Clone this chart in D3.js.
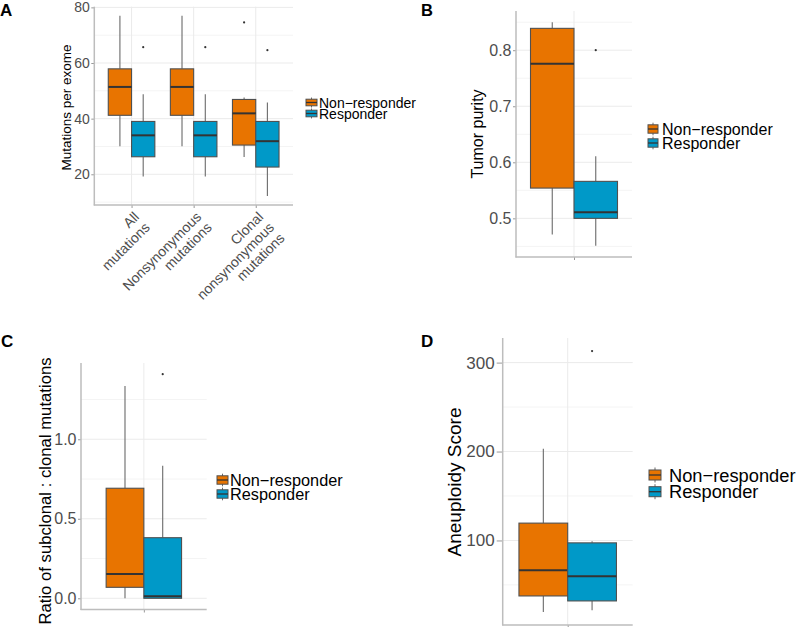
<!DOCTYPE html>
<html>
<head>
<meta charset="utf-8">
<script src="https://cdn.jsdelivr.net/npm/d3@7"></script>
<style>
  html, body { margin: 0; padding: 0; background: #fff; }
  svg { display: block; font-family: "Liberation Sans", Arial, sans-serif; }
</style>
</head>
<body>
<svg id="chart" width="800" height="627"></svg>
<script>
// ---------------- DATA ----------------
const groups = ["Non\u2212responder", "Responder"];
const groupColors = ["#E87400", "#0099C8"];

// Panel A: mutations per exome  (stats: [lowerWhisker, Q1, median, Q3, upperWhisker])
const mutCategories = [["All", "mutations"], ["Nonsynonymous", "mutations"], ["Clonal", "nonsynonymous", "mutations"]];
const mutNonResponderStats = [[30.1, 41.2, 51.4, 57.9, 77.0], [30.1, 41.2, 51.4, 57.9, 77.0], [26.2, 30.5, 41.9, 46.9, 47.6]];
const mutResponderStats = [[19.2, 26.3, 34.0, 39.0, 48.8], [19.2, 26.3, 34.0, 39.0, 48.8], [12.2, 22.6, 31.9, 39.0, 45.8]];
const mutNonResponderOutliers = [[], [], [74.6]];
const mutResponderOutliers = [[65.7], [65.7], [64.6]];
const mutTicks = [20, 40, 60, 80];

// Panel B: tumor purity
const purityNonResponderStats = [[0.471, 0.554, 0.776, 0.839, 0.850]];
const purityResponderStats = [[0.451, 0.500, 0.511, 0.566, 0.611]];
const purityNonResponderOutliers = [[]];
const purityResponderOutliers = [[0.80]];
const purityTicks = [0.5, 0.6, 0.7, 0.8];

// Panel C: ratio subclonal : clonal
const ratioNonResponderStats = [[0.0, 0.069, 0.153, 0.692, 1.335]];
const ratioResponderStats = [[0.0, 0.0, 0.013, 0.381, 0.834]];
const ratioNonResponderOutliers = [[]];
const ratioResponderOutliers = [[1.409]];
const ratioTicks = [0.0, 0.5, 1.0];

// Panel D: aneuploidy score
const aneuNonResponderStats = [[19.6, 37.6, 66.6, 119.5, 203]];
const aneuResponderStats = [[21.5, 32.0, 59.8, 97.3, 99.2]];
const aneuNonResponderOutliers = [[]];
const aneuResponderOutliers = [[313]];
const aneuTicks = [100, 200, 300];

// ---------------- DRAWING ----------------
const svg = d3.select("#chart");

function drawPanel(cfg) {
  const g = svg.append("g");
  const allVals = [];
  cfg.stats.forEach(s => s.forEach(b => allVals.push(...b)));
  cfg.outliers.forEach(s => s.forEach(o => allVals.push(...o)));
  const lo = d3.min(allVals), hi = d3.max(allVals);
  const pad = (hi - lo) * 0.05;
  const y = d3.scaleLinear().domain([lo - pad, hi + pad]).range([cfg.y1, cfg.y0]);
  const n = cfg.stats[0].length;
  const x = d3.scaleLinear().domain([0.4, n + 0.6]).range([cfg.x0, cfg.x1]);

  // minor gridlines
  const step = cfg.ticks[1] - cfg.ticks[0];
  const minor = [];
  for (let t = cfg.ticks[0] - step / 2; t <= y.domain()[1]; t += step) {
    if (t >= y.domain()[0]) minor.push(t);
  }
  g.selectAll(".minor").data(minor).join("line")
    .attr("x1", cfg.x0).attr("x2", cfg.x1)
    .attr("y1", d => y(d)).attr("y2", d => y(d))
    .attr("stroke", "#f4f4f4").attr("stroke-width", 1);
  g.selectAll(".major").data(cfg.ticks).join("line")
    .attr("x1", cfg.x0).attr("x2", cfg.x1)
    .attr("y1", d => y(d)).attr("y2", d => y(d))
    .attr("stroke", "#ebebeb").attr("stroke-width", 1);
  g.selectAll(".vgrid").data(d3.range(1, n + 1)).join("line")
    .attr("x1", d => x(d)).attr("x2", d => x(d))
    .attr("y1", cfg.y0).attr("y2", cfg.y1)
    .attr("stroke", "#ebebeb").attr("stroke-width", 1);

  // boxes
  const half = cfg.boxFrac / 2;
  cfg.stats.forEach((series, gi) => {
    series.forEach((s, ci) => {
      const cx = x(ci + 1 + (gi - 0.5) * half);
      const w = x(half) - x(0);
      const bg = g.append("g");
      bg.append("line").attr("x1", cx).attr("x2", cx).attr("y1", y(s[4])).attr("y2", y(s[3]))
        .attr("stroke", "#6a6a6a").attr("stroke-width", 1.1);
      bg.append("line").attr("x1", cx).attr("x2", cx).attr("y1", y(s[1])).attr("y2", y(s[0]))
        .attr("stroke", "#6a6a6a").attr("stroke-width", 1.1);
      bg.append("rect").attr("x", cx - w / 2).attr("width", w)
        .attr("y", y(s[3])).attr("height", Math.max(0.5, y(s[1]) - y(s[3])))
        .attr("fill", groupColors[gi]).attr("stroke", "#505050").attr("stroke-width", 1.1);
      bg.append("line").attr("x1", cx - w / 2).attr("x2", cx + w / 2)
        .attr("y1", y(s[2])).attr("y2", y(s[2]))
        .attr("stroke", "#333").attr("stroke-width", 2);
      cfg.outliers[gi][ci].forEach(o => {
        bg.append("circle").attr("cx", cx).attr("cy", y(o)).attr("r", 1.1).attr("fill", "#333");
      });
    });
  });

  // axes
  const yAxis = g.append("g").attr("transform", `translate(${cfg.x0},0)`)
    .call(d3.axisLeft(y).tickValues(cfg.ticks).tickSize(cfg.tickSize).tickPadding(cfg.tickPad).tickFormat(cfg.fmt));
  yAxis.select(".domain").remove();
  yAxis.selectAll(".tick line").attr("stroke", "#999");
  yAxis.selectAll(".tick text").attr("fill", "#4d4d4d").attr("font-size", cfg.tickFont)
    .attr("font-family", "Liberation Sans, Arial, sans-serif");

  const xAxis = g.append("g").attr("transform", `translate(0,${cfg.y1})`)
    .call(d3.axisBottom(x).tickValues(d3.range(1, n + 1)).tickSize(3).tickFormat(""));
  xAxis.select(".domain").remove();
  xAxis.selectAll(".tick line").attr("stroke", "#999");

  g.append("line").attr("x1", cfg.x0).attr("x2", cfg.x0).attr("y1", cfg.y0).attr("y2", cfg.y1 + 0.5)
    .attr("stroke", "#bdbdbd").attr("stroke-width", 1.5);
  g.append("line").attr("x1", cfg.x0 - 0.5).attr("x2", cfg.x1).attr("y1", cfg.y1).attr("y2", cfg.y1)
    .attr("stroke", "#bdbdbd").attr("stroke-width", 1.5);

  // category labels (panel A)
  if (cfg.cats) {
    cfg.cats.forEach((lines, ci) => {
      const lg = g.append("g").attr("transform", `translate(${x(ci + 1)},${cfg.y1}) rotate(-45)`);
      const t = lg.append("text").attr("text-anchor", "end").attr("fill", "#4d4d4d")
        .attr("font-size", cfg.catFont);
      lines.forEach((ln, li) => {
        t.append("tspan").attr("x", -3).attr("y", 15 + li * 15).text(ln);
      });
    });
  }

  // y title (positioned by baseline)
  g.append("text").attr("transform", `translate(${cfg.titleX},${cfg.titleY}) rotate(-90)`)
    .attr("text-anchor", "middle")
    .attr("font-size", cfg.titleFont).attr("fill", "#000").text(cfg.title);

  // panel letter
  g.append("text").attr("x", cfg.letterX).attr("y", cfg.letterY)
    .attr("font-size", cfg.letterFont).attr("font-weight", "bold").attr("fill", "#000").text(cfg.letter);

  // legend
  const L = cfg.legend;
  groups.forEach((name, gi) => {
    const cy = L.y + gi * L.gap;
    const kx = L.x;
    const kw = L.keyW;
    const kh = L.gap;
    g.append("line").attr("x1", kx + kw / 2).attr("x2", kx + kw / 2)
      .attr("y1", cy - kh * 0.45).attr("y2", cy + kh * 0.45)
      .attr("stroke", "#6a6a6a").attr("stroke-width", 1);
    g.append("rect").attr("x", kx).attr("width", kw)
      .attr("y", cy - kh * 0.3).attr("height", kh * 0.6)
      .attr("fill", groupColors[gi]).attr("stroke", "#505050").attr("stroke-width", 1);
    g.append("line").attr("x1", kx).attr("x2", kx + kw).attr("y1", cy).attr("y2", cy)
      .attr("stroke", "#333").attr("stroke-width", 1.3);
    g.append("text").attr("x", L.textX).attr("y", cy).attr("dominant-baseline", "central")
      .attr("font-size", L.font).attr("fill", "#000").text(name);
  });
}

drawPanel({
  x0: 94.3, x1: 293, y0: 6.7, y1: 205,
  stats: [mutNonResponderStats, mutResponderStats],
  outliers: [mutNonResponderOutliers, mutResponderOutliers],
  ticks: mutTicks, fmt: d3.format("d"), tickFont: "14px", tickSize: 3, tickPad: 1.5,
  boxFrac: 0.75, cats: mutCategories, catFont: "14px",
  title: "Mutations per exome", titleX: 70.6, titleY: 107.5, titleFont: "13.5px",
  letter: "A", letterX: 0, letterY: 16, letterFont: "17px",
  legend: { x: 306, keyW: 11, y: 102.5, gap: 11, textX: 319, font: "14px" }
});

drawPanel({
  x0: 516, x1: 632, y0: 11, y1: 257,
  stats: [purityNonResponderStats, purityResponderStats],
  outliers: [purityNonResponderOutliers, purityResponderOutliers],
  ticks: purityTicks, fmt: d3.format(".1f"), tickFont: "16px", tickSize: 3, tickPad: 1.5,
  boxFrac: 0.9,
  title: "Tumor purity", titleX: 483, titleY: 134, titleFont: "16px",
  letter: "B", letterX: 421, letterY: 15.5, letterFont: "16.5px",
  legend: { x: 648, keyW: 10, y: 129, gap: 14, textX: 662, font: "16px" }
});

drawPanel({
  x0: 81, x1: 206.7, y0: 363, y1: 609.5,
  stats: [ratioNonResponderStats, ratioResponderStats],
  outliers: [ratioNonResponderOutliers, ratioResponderOutliers],
  ticks: ratioTicks, fmt: d3.format(".1f"), tickFont: "16px", tickSize: 3, tickPad: 1.5,
  boxFrac: 0.72,
  title: "Ratio of subclonal : clonal mutations", titleX: 50.5, titleY: 491, titleFont: "16.7px",
  letter: "C", letterX: 1, letterY: 347, letterFont: "17px",
  legend: { x: 217, keyW: 11, y: 480, gap: 14, textX: 230, font: "16.3px" }
});

drawPanel({
  x0: 502.7, x1: 632.7, y0: 338, y1: 625,
  stats: [aneuNonResponderStats, aneuResponderStats],
  outliers: [aneuNonResponderOutliers, aneuResponderOutliers],
  ticks: aneuTicks, fmt: d3.format("d"), tickFont: "17px", tickSize: 6, tickPad: 2,
  boxFrac: 0.9,
  title: "Aneuploidy Score", titleX: 460.5, titleY: 482, titleFont: "19px",
  letter: "D", letterX: 421, letterY: 347, letterFont: "17px",
  legend: { x: 649, keyW: 12, y: 475, gap: 16.7, textX: 669, font: "18.3px" }
});
</script>
</body>
</html>
